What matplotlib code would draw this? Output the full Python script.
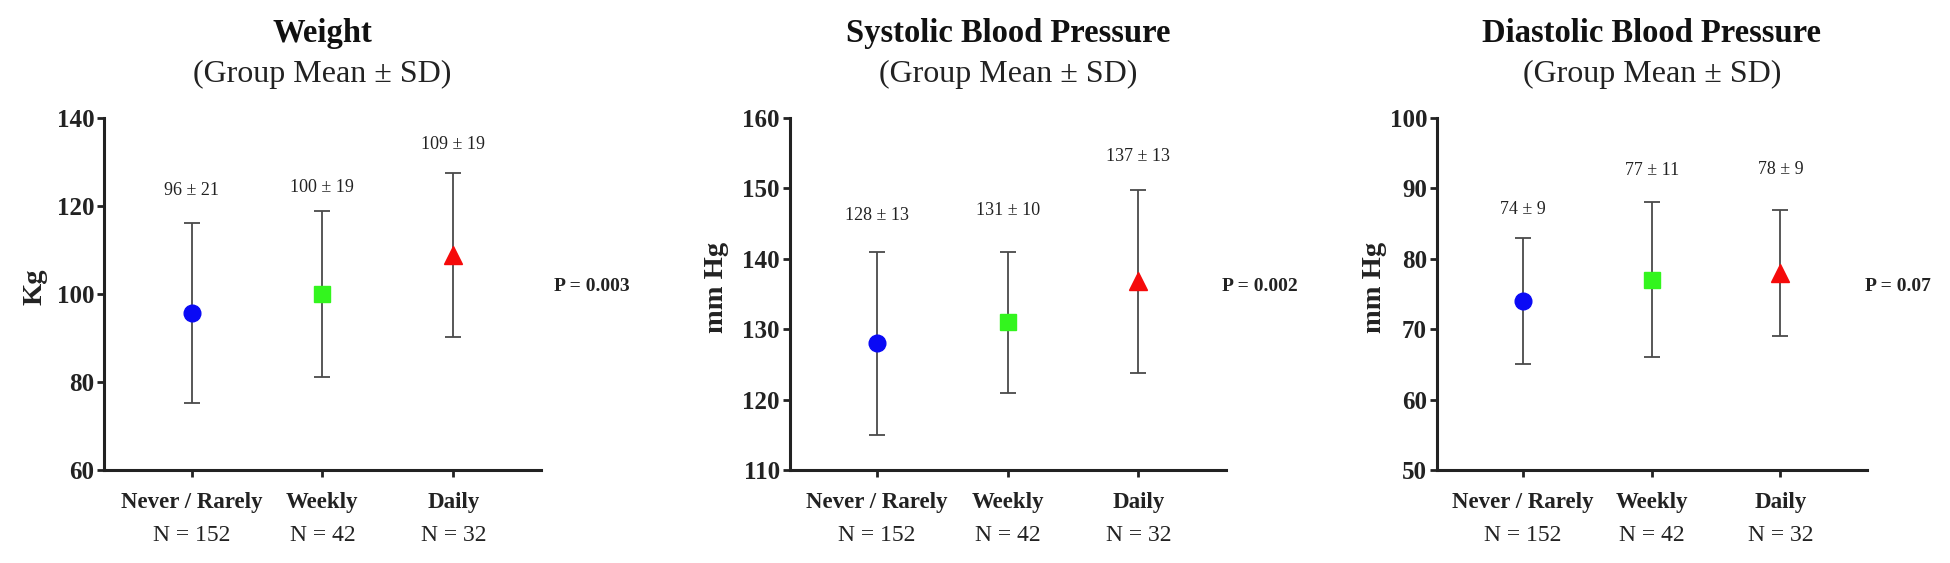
import matplotlib
matplotlib.use("Agg")
import matplotlib.pyplot as plt
import matplotlib.transforms as mtransforms

plt.rcParams['font.family'] = ['Liberation Serif', 'DejaVu Serif']

groups = ['Never / Rarely', 'Weekly', 'Daily']
group_n = [152, 42, 32]

weight_mean = [95.7, 100.0, 108.8]
weight_sd = [20.5, 18.9, 18.6]
weight_text = ['96 ± 21', '100 ± 19', '109 ± 19']

sbp_mean = [128.0, 131.0, 136.8]
sbp_sd = [13.0, 10.0, 13.0]
sbp_text = ['128 ± 13', '131 ± 10', '137 ± 13']

dbp_mean = [74.0, 77.0, 78.0]
dbp_sd = [9.0, 11.0, 9.0]
dbp_text = ['74 ± 9', '77 ± 11', '78 ± 9']

p_values = ['P = 0.003', 'P = 0.002', 'P = 0.07']

panels = [
    dict(title='Weight', ylabel='Kg', mean=weight_mean, sd=weight_sd, text=weight_text,
         ylim=(60, 140), yticks=[60, 80, 100, 120, 140], p=p_values[0],
         rect=[0.0533, 0.1652, 0.2241, 0.6252], ylab_x=-0.158, p_x=1.03,
         offs=[23, 17, 21]),
    dict(title='Systolic Blood Pressure', ylabel='mm Hg', mean=sbp_mean, sd=sbp_sd, text=sbp_text,
         ylim=(110, 160), yticks=[110, 120, 130, 140, 150, 160], p=p_values[1],
         rect=[0.4049, 0.1652, 0.2238, 0.6252], ylab_x=-0.167, p_x=0.99,
         offs=[26, 30, 24]),
    dict(title='Diastolic Blood Pressure', ylabel='mm Hg', mean=dbp_mean, sd=dbp_sd, text=dbp_text,
         ylim=(50, 100), yticks=[50, 60, 70, 80, 90, 100], p=p_values[2],
         rect=[0.7368, 0.1652, 0.2205, 0.6252], ylab_x=-0.144, p_x=0.995,
         offs=[20, 23, 29]),
]

colors = ['#0a0af5', '#33f51e', '#f50a0a']
markers = ['o', 's', '^']
sizes = [12, 11.5, 12.5]
xs = [1, 2, 3]

fig = plt.figure(figsize=(19.5, 5.63), dpi=100)

for pnl in panels:
    ax = fig.add_axes(pnl['rect'])
    for x, m, s, c, mk, sz in zip(xs, pnl['mean'], pnl['sd'], colors, markers, sizes):
        ax.errorbar(x, m, yerr=s, fmt=mk, color=c, ms=sz, mec=c,
                    ecolor='#4a4a4a', elinewidth=1.3, capsize=5.5, capthick=1.3, zorder=3)
    for x, m, s, t, o in zip(xs, pnl['mean'], pnl['sd'], pnl['text'], pnl['offs']):
        ax.annotate(t, (x, m + s), xytext=(0, o), textcoords='offset points',
                    ha='center', va='center', fontsize=13, color='#222222')

    ax.set_xlim(0.33, 3.67)
    ax.set_ylim(*pnl['ylim'])
    ax.set_yticks(pnl['yticks'])
    ax.set_xticks(xs)
    ax.set_xticklabels(groups, fontsize=16.5, fontweight='bold')
    ax.tick_params(axis='x', length=5, width=2, pad=11, colors='#222222')
    ax.tick_params(axis='y', length=5, width=2, pad=2, labelsize=18, colors='#222222')
    for lab in ax.get_yticklabels():
        lab.set_fontweight('bold')
    for side in ['top', 'right']:
        ax.spines[side].set_visible(False)
    for side in ['left', 'bottom']:
        ax.spines[side].set_linewidth(2.2)
        ax.spines[side].set_color('#222222')

    trans = mtransforms.blended_transform_factory(ax.transData, ax.transAxes)
    for x, n in zip(xs, group_n):
        ax.text(x, -0.185, f'N = {n}', transform=trans, ha='center', va='center',
                fontsize=17, color='#222222')

    ax.set_ylabel(pnl['ylabel'], fontsize=20.5, fontweight='bold', color='#222222', va='center')
    ax.yaxis.set_label_coords(pnl['ylab_x'], 0.52)

    ax.text(0.5, 1.241, pnl['title'], transform=ax.transAxes, ha='center', va='center',
            fontsize=23.5, fontweight='bold', color='#111111')
    ax.text(0.5, 1.125, '(Group Mean ± SD)', transform=ax.transAxes, ha='center', va='center',
            fontsize=23, color='#222222')
    ax.text(pnl['p_x'], 0.52, pnl['p'], transform=ax.transAxes, ha='left', va='center',
            fontsize=14, fontweight='bold', color='#222222')

fig.savefig('out.png', dpi=100, facecolor='white')
